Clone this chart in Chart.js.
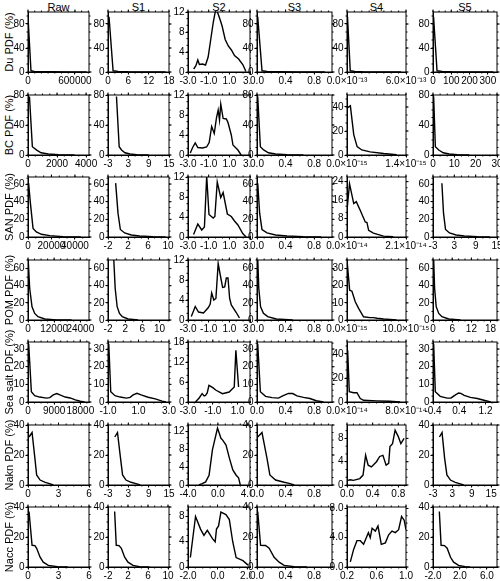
<!DOCTYPE html>
<html>
<head>
<meta charset="utf-8">
<script src="https://cdn.jsdelivr.net/npm/chart.js@4.4.1/dist/chart.umd.min.js"></script>
<style>
  html, body { margin: 0; padding: 0; background: #fff; }
  #fig { position: relative; width: 500px; height: 581px; overflow: hidden; font-family: "Liberation Sans", Arial, sans-serif; color: #000; }
  #fig canvas { position: absolute; }
  .col-title { position: absolute; top: 1px; font-size: 11px; line-height: 12px; text-align: center; }
  .row-title { position: absolute; font-size: 11px; white-space: nowrap; transform: translate(-50%, -50%) rotate(-90deg); }
</style>
</head>
<body>
<div id="fig"></div>
<script>
const columnNames = ['Raw', 'S1', 'S2', 'S3', 'S4', 'S5'];
const rowNames = ['Du PDF (%)', 'BC PDF (%)', 'SAN PDF (%)', 'POM PDF (%)', 'Sea salt PDF (%)', 'Nakn PDF (%)', 'Nacc PDF (%)'];

// Du
const duPts = [
  [[0,92],[38000,2],[80000,1],[150000,0.6],[300000,0.3],[500000,0.1],[750000,0.05]],
  [[0.3,92],[1.5,2],[3,1],[6,0.4],[10,0.1],[17,0.02]],
  [[-2.45,0.6],[-2.25,1.2],[-2.05,2.4],[-1.9,1.5],[-1.6,1.6],[-1.3,1.4],[-1.05,3],[-0.8,6.5],[-0.55,10],[-0.35,12.2],[-0.15,12],[0.1,10.5],[0.3,9.2],[0.6,6.5],[0.9,5.2],[1.2,4.4],[1.5,3.3],[1.9,2.6],[2.3,1.5],[2.5,0.6],[2.6,0.1]],
  [[0.01,92],[0.07,2],[0.14,1],[0.3,0.4],[0.55,0.1],[0.95,0.02]],
  [[0.05,92],[0.33,2],[0.8,1],[1.6,0.4],[3,0.1],[5.5,0.02]],
  [[3,92],[22,2],[50,1],[100,0.4],[200,0.1],[330,0.02]]
];
const duXRange = [[0,780000],[0,18],[-3,3],[0,1.05],[0,6],[0,350]];
const duXTicks = [['0','600000'],['0','6','12','18'],['-3.0','-1.0','1.0','3.0'],['0.0','0.4','0.8'],['0.0×10⁻¹³','6.0×10⁻¹³'],['0','100','200','300']];
const duYMax = [100,100,12,100,100,100];
const duYTicks = [['0','40','80'],['0','40','80'],['0','4','8','12'],['0','40','80'],['0','40','80'],['0','40','80']];

// BC
const bcPts = [
  [[100,78],[300,11],[600,6.5],[900,3],[1400,1.3],[2100,0.4],[3200,0.05]],
  [[-0.5,78],[0.3,11],[1.0,6.7],[2,3],[3.5,1.3],[5.5,0.4],[9,0.05]],
  [[-2.78,0.4],[-2.55,1.5],[-2.3,2.4],[-2.05,1.5],[-1.6,1.4],[-1.2,1.6],[-0.95,2.5],[-0.71,5.7],[-0.46,4.3],[-0.24,7.5],[-0.08,9],[0.05,7],[0.17,10.2],[0.4,7.3],[0.71,7.2],[0.87,6.5],[1.19,4],[1.35,2],[1.83,1],[2.14,0]],
  [[0.01,78],[0.047,11],[0.093,6.7],[0.16,3],[0.26,1.3],[0.42,0.4],[0.65,0.05]],
  [[0.02,39.5],[0.08,41],[0.16,17],[0.24,7],[0.35,4.2],[0.55,2.6],[0.87,1.2],[1.18,0.2]],
  [[0.3,78],[1.1,11],[2.7,6.7],[4.8,3],[7.6,1.3],[11.6,0.4],[17,0.05]]
];
const bcXRange = [[0,4200],[-3,15],[-3,3],[0,1.05],[0,1.4],[0,30]];
const bcXTicks = [['0','2000','4000'],['-3','3','9','15'],['-3.0','-1.0','1.0','3.0'],['0.0','0.4','0.8'],['0.0×10⁻¹⁵','1.4×10⁻¹⁵'],['0','10','20','30']];
const bcYMax = [80,80,12,80,50,80];
const bcYTicks = [['0','40','80'],['0','40','80'],['0','4','8','12'],['0','40','80'],['0','20','40'],['0','40','80']];

// SAN
const sanPts = [
  [[500,61],[2000,39],[4300,9.7],[7100,5.8],[11400,3.1],[18600,1.5],[30000,0.4],[45000,0.05]],
  [[-0.47,61],[0,27],[0.47,8.5],[1.33,4.6],[2.67,2.3],[4.3,1.2],[7,0.4],[9.5,0.1]],
  [[-2.46,0.5],[-2.05,2.6],[-1.67,1.4],[-1.41,2],[-1.19,12.2],[-0.97,4.5],[-0.56,3.8],[-0.4,4.1],[-0.17,11],[0.17,7.9],[0.4,8.9],[0.81,4.6],[1.19,4.1],[1.5,3.2],[1.83,2.4],[2.3,0.7],[2.62,0]],
  [[0.01,61],[0.037,27],[0.07,8.5],[0.14,4.6],[0.26,2.3],[0.42,1.2],[0.65,0.4],[0.9,0.05]],
  [[0,11.6],[0.09,23],[0.24,14.5],[0.33,15.3],[0.47,11.6],[0.65,6.5],[0.71,6.3],[0.77,2.9],[0.94,1.7],[1.3,0.4],[1.65,0.1]],
  [[-0.5,61],[-0.04,27],[0.52,8.5],[1.63,4.6],[3.5,2.3],[5.8,1.2],[9.5,0.4],[13,0.1]]
];
const sanXRange = [[0,52000],[-2,10.2],[-3,3],[0,1.05],[0,2.1],[-3,15]];
const sanXTicks = [['0','20000','40000'],['-2','2','6','10'],['-3.0','-1.0','1.0','3.0'],['0.0','0.4','0.8'],['0.0×10⁻¹⁴','2.1×10⁻¹⁴'],['-3','3','9','15']];
const sanYMax = [68,68,12,68,26,68];
const sanYTicks = [['0','20','40','60'],['0','20','40','60'],['0','4','8','12'],['0','20','40','60'],['0','8','16','24'],['0','20','40','60']];

// POM
const pomPts = [
  [[0,75],[770,37],[1850,15.5],[3080,7.7],[4600,3.9],[7700,1.2],[13000,0.2],[20000,0]],
  [[-0.67,72],[-0.33,37],[0.13,15.5],[0.67,7.7],[1.33,3.9],[2.67,1.2],[5,0.1]],
  [[-2.68,0.7],[-2.3,2.7],[-1.98,1.6],[-1.5,1.4],[-1.03,2.5],[-0.85,3.2],[-0.71,5.4],[-0.5,4],[-0.3,4.3],[-0.08,11.3],[0.15,8.7],[0.35,6.5],[0.55,6.6],[0.71,8.4],[0.87,8.4],[1.03,4.3],[1.19,3],[1.67,1.5],[1.98,0.4]],
  [[0.01,72],[0.025,37],[0.05,15.5],[0.09,7.7],[0.15,3.9],[0.27,1.2],[0.5,0.1]],
  [[0,35],[0.45,17.4],[0.84,16.8],[1.4,10.6],[1.97,6.8],[2.8,1.9],[3.9,1.4],[4.5,1.4],[5.1,1],[6.2,0.6],[8.4,0.05]],
  [[0.2,72],[0.5,37],[1,15.5],[1.8,7.7],[2.8,3.9],[4.9,1.2],[8.6,0.1]]
];
const pomXRange = [[0,28000],[-2,12.2],[-3,3],[0,1.05],[0,10],[0,20]];
const pomXTicks = [['0','12000','24000'],['-2','2','6','10'],['-3.0','-1.0','1.0','3.0'],['0.0','0.4','0.8'],['0.0×10⁻¹⁵','10.0×10⁻¹⁵'],['0','6','12','18']];
const pomYMax = [70,70,12,70,35,70];
const pomYTicks = [['0','20','40','60'],['0','20','40','60'],['0','4','8','12'],['0','20','40','60'],['0','10','20','30'],['0','20','40','60']];

// Sea salt
const ssPts = [
  [[230,33],[1160,5.8],[2300,3.6],[4000,2.8],[6400,2.2],[7500,2.5],[8700,4],[9900,4.8],[11000,4],[12800,2.8],[14500,2.3],[16300,1.2],[18000,0.4],[19500,0]],
  [[-0.95,33],[-0.82,5.8],[-0.54,3.6],[-0.2,2.8],[0.2,2.2],[0.45,2.6],[0.65,4],[0.9,4.9],[1.17,4],[1.63,2.7],[2.1,1.8],[2.55,0.5],[2.8,0]],
  [[-2.4,0],[-2.1,1.2],[-1.86,2.5],[-1.7,1.8],[-1.59,2],[-1.45,2.7],[-1.31,5],[-1.0,4.3],[-0.77,3.6],[-0.22,2.5],[0.32,3],[0.73,4.5],[0.86,15.5],[1.08,4.5]],
  [[0.01,33],[0.047,5.8],[0.12,3.2],[0.21,2.5],[0.3,2.2],[0.36,3.5],[0.44,4.9],[0.5,4.8],[0.56,3.5],[0.65,2.6],[0.74,2],[0.83,0.7],[0.93,0]],
  [[0.09,43],[0.31,8.6],[0.9,7.7],[1.35,7.7],[1.8,2.9],[2.25,1.4],[4,0.9],[5.8,0.6],[7.2,0.1]],
  [[-0.38,33],[-0.33,5.8],[-0.18,3.2],[0.03,2.2],[0.15,2.3],[0.25,3.6],[0.38,5.1],[0.45,4.9],[0.55,3.8],[0.74,2.6],[0.95,2],[1.15,1],[1.36,0]]
];
const ssXRange = [[0,21000],[-1,3],[-3,2],[0,1.05],[0,8],[-0.4,1.55]];
const ssXTicks = [['0','9000','18000'],['-1.0','1.0','3.0'],['-3.0','-1.0','1.0'],['0.0','0.4','0.8'],['0.0×10⁻¹⁴','8.0×10⁻¹⁴'],['-0.4','0.4','1.2']];
const ssYMax = [34,34,18,34,50,34];
const ssYTicks = [['0','10','20','30'],['0','10','20','30'],['0','6','12','18'],['0','10','20','30'],['0','20','40'],['0','10','20','30']];

// Nakn
const naknPts = [
  [[0.1,32],[0.4,35],[0.68,17.8],[0.85,6.7],[1.19,3.3],[1.7,1.8],[2.03,1.1],[2.5,0]],
  [[-1,32],[-0.2,35],[0.7,17.8],[1.3,6.7],[2.3,3.3],[3.8,1.8],[5,1.1],[6.5,0]],
  [[-2.55,0],[-2.1,0.3],[-1.64,0.7],[-1.18,2.2],[-0.73,7.9],[-0.05,12.8],[0.41,10.5],[0.64,10.1],[1.09,9],[1.55,6],[2,3.4],[2.45,2.2],[2.77,1.6],[3,0]],
  [[0.01,32],[0.07,35],[0.14,17.8],[0.18,6.7],[0.26,3.3],[0.38,1.8],[0.45,1.1],[0.52,0]],
  [[0.01,0.8],[0.05,0.9],[0.1,0.8],[0.2,1.1],[0.25,1.7],[0.29,5.1],[0.33,3.4],[0.38,3.1],[0.46,4],[0.51,4.9],[0.56,5.1],[0.61,3.4],[0.65,3.7],[0.67,6.6],[0.71,7.1],[0.75,9.4],[0.8,8.3],[0.84,7.1],[0.89,8]],
  [[-1,32],[-0.2,35],[0.6,17.8],[1.3,6.7],[2.4,3.3],[3.9,1.8],[4.9,1.1],[6.5,0]]
];
const naknXRange = [[0,6],[-3,15],[-4,4.3],[0,1.05],[0,0.92],[-3,16.8]];
const naknXTicks = [['0','3','6'],['-3','3','9','15'],['-4.0','0.0','4.0'],['0.0','0.4','0.8'],['0.0','0.4','0.8'],['-3','3','9','15']];
const naknYMax = [40,40,13.5,40,10.3,40];
const naknYTicks = [['0','20','40'],['0','20','40'],['0','4','8','12'],['0','20','40'],['0','4','8'],['0','20','40']];

// Nacc
const naccPts = [
  [[0.1,37],[0.4,14.5],[0.68,14.3],[0.85,12.5],[1.19,6.5],[1.5,3.2],[2,1.1],[2.9,0.2],[3.9,0]],
  [[-0.67,37],[-0.35,14.5],[0.2,14.3],[0.67,12.5],[1.33,6.5],[2,3.2],[3,1.1],[4.3,0.2],[6.3,0]],
  [[-1.84,1.5],[-1.49,8],[-1.15,6],[-0.92,5],[-0.69,5.8],[-0.34,4.5],[-0.16,4],[-0.07,6],[0.07,6.5],[0.23,8.7],[0.57,8.3],[0.8,7.5],[1.03,4],[1.26,1.5],[1.72,1],[2.07,0.3]],
  [[0.01,37],[0.05,14.5],[0.12,14.3],[0.17,12.5],[0.24,6.5],[0.31,3.2],[0.38,1.1],[0.52,0.2],[0.7,0]],
  [[0.245,0.7],[0.29,2.4],[0.335,3.6],[0.38,3.6],[0.425,3.1],[0.49,4.7],[0.515,4],[0.54,5.3],[0.585,4.9],[0.62,5.6],[0.665,3.1],[0.72,3.3],[0.765,4.4],[0.81,4.9],[0.855,4.7],[0.9,5.1],[0.94,6.9],[0.975,6.4],[1.0,5.1]],
  [[-1.06,37],[-0.8,14.5],[-0.3,14.3],[0.1,12.5],[0.6,6.5],[1.06,3.2],[1.8,1.1],[2.8,0.2],[3.5,0]]
];
const naccXRange = [[0,6],[-2,10.2],[-2,2.2],[0,1.05],[0.2,1.0],[-2,7.5]];
const naccXTicks = [['0','3','6'],['-2','2','6','10'],['-2.0','0.0','2.0'],['0.0','0.4','0.8'],['0.2','0.6','1.0'],['-2.0','2.0','6.0']];
const naccYMax = [40,40,9.5,40,8.2,40];
const naccYTicks = [['0','20','40'],['0','20','40'],['0','4','8'],['0','20','40'],['0.0','4.0','8.0'],['0','20','40']];

const rows = [
  { pts: duPts, xr: duXRange, xt: duXTicks, ymax: duYMax, yt: duYTicks },
  { pts: bcPts, xr: bcXRange, xt: bcXTicks, ymax: bcYMax, yt: bcYTicks },
  { pts: sanPts, xr: sanXRange, xt: sanXTicks, ymax: sanYMax, yt: sanYTicks },
  { pts: pomPts, xr: pomXRange, xt: pomXTicks, ymax: pomYMax, yt: pomYTicks },
  { pts: ssPts, xr: ssXRange, xt: ssXTicks, ymax: ssYMax, yt: ssYTicks },
  { pts: naknPts, xr: naknXRange, xt: naknXTicks, ymax: naknYMax, yt: naknYTicks },
  { pts: naccPts, xr: naccXRange, xt: naccXTicks, ymax: naccYMax, yt: naccYTicks }
];

// layout of the plot boxes (pixels)
const colLeft = [28, 108, 188, 257, 347, 433];
const colWidth = [61, 61, 62, 75, 59, 64];
const rowBottom = [72, 154.5, 237, 319.5, 402, 484.5, 567];
const plotH = 60;
const PADL = 30, PADT = 8, PADR = 32, PADB = 17;
const maskFrom = 251; // the S3 column hides whatever of S2 spills past this x

Chart.defaults.font.family = '"Liberation Sans", Arial, sans-serif';
Chart.defaults.font.size = 10;
Chart.defaults.color = '#000';

const num = s => parseFloat(s);

// white strip left of the S3 boxes, like the pasted-together original
const mask = {
  id: 'mask',
  beforeDraw(chart) {
    const { ctx, chartArea: a } = chart;
    const x0 = maskFrom - (colLeft[3] - PADL);
    ctx.save();
    ctx.fillStyle = '#fff';
    ctx.fillRect(x0, 0, a.left - x0, chart.height);
    ctx.restore();
  }
};

// box, mirrored ticks and minor ticks
const frame = {
  id: 'frame',
  afterDraw(chart) {
    const { ctx, chartArea: a, scales: { x, y } } = chart;
    ctx.save();
    ctx.strokeStyle = '#000';
    ctx.lineWidth = 1;
    ctx.strokeRect(a.left, a.top, a.right - a.left, a.bottom - a.top);
    ctx.beginPath();
    x.ticks.forEach(t => {
      const px = x.getPixelForValue(t.value);
      ctx.moveTo(px, a.top); ctx.lineTo(px, a.top - 2.5);
    });
    y.ticks.forEach(t => {
      const py = y.getPixelForValue(t.value);
      ctx.moveTo(a.right, py); ctx.lineTo(a.right + 2.5, py);
    });
    const minor = (sc, horiz) => {
      if (sc.ticks.length < 2) return;
      const t0 = sc.ticks[0].value, t1 = sc.ticks[1].value;
      const span = Math.abs(sc.getPixelForValue(t1) - sc.getPixelForValue(t0));
      const n = Math.max(1, Math.round(span / 7));
      const step = (t1 - t0) / n;
      for (let k = -200; k <= 200; k++) {
        const v = t0 + k * step;
        if (v < sc.min - 1e-9 || v > sc.max + 1e-9) continue;
        const p = sc.getPixelForValue(v);
        if (horiz) {
          ctx.moveTo(p, a.bottom); ctx.lineTo(p, a.bottom + 1.5);
          ctx.moveTo(p, a.top); ctx.lineTo(p, a.top - 1.5);
        } else {
          ctx.moveTo(a.left, p); ctx.lineTo(a.left - 1.5, p);
          ctx.moveTo(a.right, p); ctx.lineTo(a.right + 1.5, p);
        }
      }
    };
    minor(x, true);
    minor(y, false);
    ctx.stroke();
    ctx.restore();
  }
};

const fig = document.getElementById('fig');

columnNames.forEach((name, c) => {
  const d = document.createElement('div');
  d.className = 'col-title';
  d.style.left = colLeft[c] + 'px';
  d.style.width = colWidth[c] + 'px';
  d.textContent = name;
  fig.appendChild(d);
});

rows.forEach((row, r) => {
  const top = rowBottom[r] - plotH;
  const lab = document.createElement('div');
  lab.className = 'row-title';
  lab.style.left = '8.5px';
  lab.style.top = (top + plotH / 2) + 'px';
  lab.textContent = rowNames[r];
  fig.appendChild(lab);

  for (let c = 0; c < 6; c++) {
    const cv = document.createElement('canvas');
    const w = PADL + colWidth[c] + PADR;
    const h = PADT + plotH + PADB;
    cv.width = w; cv.height = h;
    cv.style.width = w + 'px'; cv.style.height = h + 'px';
    cv.style.left = (colLeft[c] - PADL) + 'px';
    cv.style.top = (top - PADT) + 'px';
    fig.appendChild(cv);

    const xt = row.xt[c], yt = row.yt[c];
    new Chart(cv, {
      type: 'line',
      data: {
        datasets: [{
          data: row.pts[c].map(p => ({ x: p[0], y: p[1] })),
          borderColor: '#000',
          borderWidth: 1.4,
          pointRadius: 0,
          tension: 0,
          fill: false
        }]
      },
      options: {
        responsive: false,
        animation: false,
        layout: { padding: { top: PADT, right: PADR, left: 0, bottom: 0 } },
        plugins: { legend: { display: false }, tooltip: { enabled: false } },
        scales: {
          x: {
            type: 'linear',
            min: row.xr[c][0], max: row.xr[c][1],
            afterBuildTicks: s => { s.ticks = xt.map(t => ({ value: num(t) })); },
            afterFit: s => { s.height = PADB; },
            ticks: { autoSkip: false, maxRotation: 0, padding: 1, callback: (v, i) => xt[i] },
            grid: { drawOnChartArea: false, tickLength: 2.5, color: '#000' },
            border: { color: '#000' }
          },
          y: {
            type: 'linear',
            min: 0, max: row.ymax[c],
            afterBuildTicks: s => { s.ticks = yt.map(t => ({ value: num(t) })); },
            afterFit: s => { s.width = PADL; },
            ticks: { autoSkip: false, padding: 1, callback: (v, i) => yt[i] },
            grid: { drawOnChartArea: false, tickLength: 2.5, color: '#000' },
            border: { color: '#000' }
          }
        }
      },
      plugins: c === 3 ? [mask, frame] : [frame]
    });
  }
});
</script>
</body>
</html>
